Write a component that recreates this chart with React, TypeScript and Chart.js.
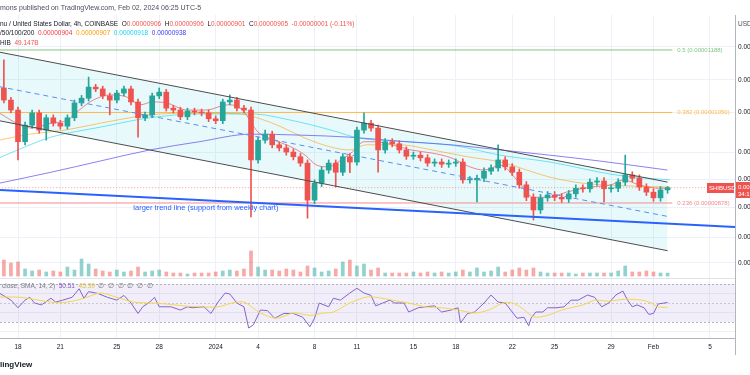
import { useEffect, useRef } from 'react';
import { Chart, registerables } from 'chart.js';

Chart.register(...registerables);

// Time axis is counted in 4h bars from 2023-12-18 00:00 (bar 0)
const dateTickBars = [0, 18, 42, 60, 84, 102, 126, 144, 168, 186, 210, 228, 252, 270, 294];
const dateTickLabels = ['18', '21', '25', '28', '2024', '4', '8', '11', '15', '18', '22', '25', '29', 'Feb', '5'];

// Candles (12h each), prices in units of 1e-8 USD
const firstCandleBar = -6;
const candleStepBars = 3;
const opens = [
  1102, 1076, 1055, 991, 1024, 1049, 1014, 1039, 1028, 1022,
  1039, 1070, 1080, 1104, 1100, 1085, 1076, 1091, 1100, 1072,
  1039, 1045, 1085, 1093, 1059, 1055, 1041, 1053, 1051, 1049,
  1037, 1033, 1072, 1076, 1059, 1055, 956, 994, 1006, 985,
  979, 971, 962, 950, 883, 913, 937, 950, 933, 962,
  952, 1014, 1028, 1018, 975, 991, 987, 975, 963, 965,
  960, 950, 952, 948, 950, 952, 919, 919, 922, 935,
  941, 956, 943, 933, 910, 888, 866, 887, 892, 888,
  885, 894, 904, 903, 915, 917, 903, 904, 915, 928,
  922, 906, 897, 887, 901,
];
const highs = [
  1165, 1082, 1061, 1030, 1055, 1055, 1045, 1045, 1034, 1045,
  1076, 1086, 1126, 1110, 1106, 1091, 1097, 1106, 1106, 1078,
  1051, 1091, 1102, 1099, 1065, 1061, 1059, 1059, 1057, 1055,
  1043, 1078, 1087, 1082, 1065, 1061, 1000, 1014, 1012, 991,
  985, 977, 968, 956, 919, 943, 956, 956, 968, 968,
  1020, 1049, 1034, 1024, 997, 997, 993, 981, 971, 971,
  966, 958, 958, 956, 958, 958, 925, 928, 941, 947,
  985, 962, 949, 939, 916, 894, 893, 898, 898, 894,
  900, 910, 910, 921, 923, 923, 910, 921, 965, 934,
  928, 912, 903, 907, 907,
];
const lows = [
  1070, 1049, 956, 985, 1018, 1008, 994, 1022, 1016, 1016,
  1033, 1064, 1074, 1094, 1079, 1045, 1070, 1085, 1066, 1000,
  1033, 1039, 1079, 1053, 1049, 1035, 1035, 1045, 1043, 1031,
  1027, 1027, 1066, 1053, 1049, 854, 950, 988, 979, 973,
  965, 956, 944, 852, 877, 907, 931, 906, 927, 932,
  946, 1008, 1012, 933, 969, 981, 969, 957, 957, 954,
  944, 944, 942, 942, 944, 913, 913, 880, 916, 929,
  935, 937, 927, 904, 882, 849, 860, 881, 882, 879,
  879, 888, 897, 897, 909, 880, 897, 898, 909, 916,
  900, 891, 881, 881, 895,
];
const closes = [
  1076, 1055, 991, 1024, 1049, 1014, 1039, 1028, 1022, 1039,
  1070, 1080, 1104, 1100, 1085, 1076, 1091, 1100, 1072, 1039,
  1045, 1085, 1093, 1059, 1055, 1041, 1053, 1051, 1049, 1037,
  1033, 1072, 1076, 1059, 1055, 956, 994, 1006, 985, 979,
  971, 962, 950, 883, 913, 937, 950, 933, 962, 952,
  1014, 1028, 1018, 975, 991, 987, 975, 963, 965, 960,
  950, 952, 948, 950, 952, 919, 919, 922, 935, 941,
  956, 943, 933, 910, 888, 866, 887, 892, 888, 885,
  894, 904, 903, 915, 917, 903, 904, 915, 928, 922,
  906, 897, 887, 901, 905,
];
// Volume in billions SHIB
const volumes = [
  267, 217, 234, 117, 84, 100, 67, 84, 67, 150,
  100, 284, 200, 117, 84, 67, 100, 67, 84, 150,
  67, 84, 100, 67, 50, 50, 33, 50, 50, 50,
  67, 84, 100, 84, 117, 418, 150, 100, 100, 84,
  117, 100, 67, 167, 134, 67, 84, 117, 234, 267,
  167, 200, 100, 134, 50, 50, 50, 50, 67, 50,
  67, 50, 67, 50, 67, 100, 67, 134, 67, 84,
  150, 67, 100, 134, 100, 134, 67, 50, 50, 50,
  50, 33, 50, 50, 50, 50, 50, 84, 167, 67,
  67, 84, 67, 50, 49,
];

// Moving averages (bar, price)
const ma20Bars = [-8, 1, 6, 14, 21, 26, 32, 39, 46, 52, 57, 63, 72, 80, 89, 95, 102, 109, 116, 122, 127, 132, 136, 142, 147, 152, 159, 167, 176, 184, 192, 198, 205, 212, 219, 226, 233, 243, 252, 257, 264, 272, 277];
const ma20Values = [1049, 1024, 1018, 1028, 1034, 1055, 1076, 1087, 1083, 1066, 1072, 1070, 1055, 1055, 1066, 1057, 1010, 994, 981, 965, 946, 943, 952, 971, 991, 991, 985, 975, 969, 960, 943, 937, 946, 919, 888, 888, 897, 906, 910, 919, 910, 904, 904];
const ma50Bars = [-8, 5, 20, 35, 56, 77, 94, 107, 127, 141, 148, 162, 176, 191, 205, 226, 240, 260, 277];
const ma50Values = [994, 1006, 1014, 1028, 1045, 1049, 1047, 1030, 989, 975, 985, 985, 975, 962, 952, 924, 913, 908, 906];
const ma100Bars = [-8, 3, 14, 35, 56, 77, 99, 116, 133, 145, 162, 186, 205, 226, 254, 277];
const ma100Values = [960, 981, 1000, 1020, 1039, 1047, 1047, 1034, 1014, 998, 992, 983, 965, 952, 928, 919];
const ma200Bars = [-8, 14, 35, 56, 77, 99, 120, 141, 162, 184, 205, 226, 247, 276];
const ma200Values = [913, 933, 954, 975, 991, 1006, 1004, 1000, 992, 985, 975, 965, 954, 937];

// RSI (14) and its SMA
const rsiBars = [-8, -3, 0, 3, 5, 7, 10, 14, 16, 19, 23, 26, 28, 30, 34, 38, 42, 45, 48, 51, 53, 56, 58, 60, 65, 69, 72, 74, 79, 82, 85, 88, 90, 93, 96, 98, 100, 103, 106, 109, 113, 117, 121, 124, 126, 128, 132, 134, 137, 141, 144, 147, 150, 152, 155, 158, 160, 164, 166, 170, 173, 177, 180, 184, 187, 188, 191, 194, 198, 201, 204, 207, 210, 212, 215, 217, 218, 220, 223, 225, 229, 232, 235, 238, 242, 245, 248, 251, 254, 257, 259, 261, 263, 266, 268, 270, 272, 276];
const rsiValues = [60.5, 53, 45, 53, 56, 50, 48, 55, 51, 53, 56, 65, 55, 62, 60, 56, 53, 58, 50, 39, 46, 51, 56, 46, 46, 42.6, 46, 45, 46, 39, 51, 60.5, 59.5, 50, 46, 23.7, 27, 42.6, 42, 34, 39, 39, 35, 25, 34, 50, 46, 55, 53, 60.5, 65.5, 60.5, 58, 47, 50, 53, 50, 50, 40.5, 45, 46, 47, 40.5, 42.6, 45, 29, 39, 40.5, 50, 58.4, 51, 50, 40.5, 34, 35, 26, 34, 40.5, 40.5, 45, 45, 46, 53, 53, 58.4, 56, 46, 50, 58.4, 62.6, 53, 46, 48, 45, 38, 39, 49, 50.5];
const rsiSmaBars = [-8, 1, 14, 21, 28, 35, 42, 49, 56, 63, 70, 77, 85, 91, 96, 103, 110, 117, 124, 130, 134, 141, 148, 152, 159, 166, 173, 180, 187, 194, 200, 206, 210, 214, 219, 225, 231, 240, 245, 251, 258, 265, 269, 272, 276];
const rsiSmaValues = [56.3, 56, 51, 51, 55, 60.5, 56, 51, 50, 49, 47, 46, 46, 50, 51, 39.5, 34, 39.5, 37, 39.5, 40.5, 50, 56.3, 56, 53, 50, 46, 45, 42.6, 39.5, 42.6, 50, 50, 45, 35.5, 37, 42.6, 48, 53, 52, 54, 53, 50, 46, 45.4];
const rsiTicks = [20, 40, 60];

// Drawings (bar, price)
const channelUpper = [[-8, 1183], [276, 915]];
const channelLower = [[-8, 1033], [276, 799]];
const channelMid = [[-8, 1105], [276, 855]];
const weeklyTrend = [[-8, 901], [306, 837]];
const fibRatios = ['0.5', '0.382', '0.236'];
const fibPrices = [1188, 1050, 878];
const fibColors = ['#81c784', '#ffb74d', '#f48c8c'];
const fibStartBar = -8;
const fibEndBar = 278;
const priceTicks = [1195, 1120, 1050, 970, 920, 870, 820, 780];
const lastPrice = 905;

const headerText = 'mons published on TradingView.com, Feb 02, 2024 06:25 UTC-5';
const trendNote = 'larger trend line (support from weekly chart)';
const trendNoteAt = [49, 869];

const FONT = '"Liberation Sans", Arial, sans-serif';
const UP = '#26a69a';
const DOWN = '#ef5350';

const toPts = (bars: number[], vals: number[]) => bars.map((b, i) => ({ x: b, y: vals[i] }));
const pairPts = (arr: number[][]) => arr.map(([x, y]) => ({ x, y }));

export default function App() {
  const ref = useRef<HTMLCanvasElement>(null);

  useEffect(() => {
    const canvas = ref.current;
    if (!canvas) return;
    const candleBars = closes.map((_, k) => firstCandleBar + candleStepBars * k);
    const isUp = (k: number) => closes[k] >= opens[k];

    const drawParts = (ctx: CanvasRenderingContext2D, parts: [string, string][], x: number, y: number) => {
      let cx = x;
      for (const [t, c] of parts) {
        ctx.fillStyle = c;
        ctx.fillText(t, cx, y);
        cx += ctx.measureText(t).width;
      }
    };

    const noPadX = (s: any) => { s.paddingLeft = 0; s.paddingRight = 0; };
    const noPadY = (s: any) => { s.paddingTop = 0; s.paddingBottom = 0; };

    const overlay = {
      id: 'overlay',
      beforeDatasetsDraw(chart: any) {
        const { ctx, chartArea: a, scales } = chart;
        const r = scales.yRsi;
        const y70 = r.getPixelForValue(70);
        const y30 = r.getPixelForValue(30);
        const y50 = r.getPixelForValue(50);
        ctx.save();
        ctx.fillStyle = 'rgba(126,87,194,0.1)';
        ctx.fillRect(a.left, y70, a.right - a.left, y30 - y70);
        ctx.strokeStyle = 'rgba(120,123,134,0.55)';
        ctx.lineWidth = 1;
        ctx.setLineDash([2, 2]);
        for (const yy of [y70, y30]) {
          ctx.beginPath();
          ctx.moveTo(a.left, Math.round(yy) + 0.5);
          ctx.lineTo(a.right, Math.round(yy) + 0.5);
          ctx.stroke();
        }
        ctx.strokeStyle = 'rgba(120,123,134,0.35)';
        ctx.beginPath();
        ctx.moveTo(a.left, Math.round(y50) + 0.5);
        ctx.lineTo(a.right, Math.round(y50) + 0.5);
        ctx.stroke();
        ctx.setLineDash([]);
        const ySep = Math.round(r.getPixelForValue(76.5)) + 0.5;
        ctx.strokeStyle = '#e0e3eb';
        ctx.beginPath();
        ctx.moveTo(a.left, ySep);
        ctx.lineTo(a.right, ySep);
        ctx.stroke();
        // price-axis border continues through the time-axis row
        ctx.strokeStyle = '#b2b5be';
        ctx.beginPath();
        ctx.moveTo(a.right + 0.5, a.bottom);
        ctx.lineTo(a.right + 0.5, a.bottom + 17);
        ctx.stroke();
        ctx.restore();
      },
      afterDraw(chart: any) {
        const { ctx, chartArea: a, scales } = chart;
        const y = scales.y;
        const x = scales.x;
        const r = scales.yRsi;
        ctx.save();
        ctx.textBaseline = 'middle';
        ctx.textAlign = 'left';
        // header
        ctx.font = `7px ${FONT}`;
        ctx.fillStyle = '#4a4e59';
        ctx.fillText(headerText, 0, 8);
        // legends
        ctx.font = `6.5px ${FONT}`;
        const dark = '#131722';
        drawParts(ctx, [
          ['nu / United States Dollar, 4h, COINBASE  ', dark], ['O', dark], ['0.00000906', DOWN],
          ['  H', dark], ['0.00000906', DOWN], ['  L', dark], ['0.00000901', DOWN],
          ['  C', dark], ['0.00000905', DOWN], ['  -0.00000001 (-0.11%)', DOWN],
        ], 0, 24);
        drawParts(ctx, [
          ['/50/100/200  ', dark], ['0.00000904  ', '#f23645'], ['0.00000907  ', '#ff9800'],
          ['0.00000918  ', '#18d6f0'], ['0.00000938', '#3b3bf5'],
        ], 0, 33);
        drawParts(ctx, [['HIB  ', dark], ['49.147B', DOWN]], 0, 43);
        drawParts(ctx, [
          ['close, SMA, 14, 2)  ', '#787b86'], ['50.51  ', '#7e57c2'], ['45.39  ', '#e0c23a'],
          ['\u2205  \u2205  \u2205  \u2205  \u2205  \u2205', '#787b86'],
        ], 2, r.getPixelForValue(68));
        // USD label
        ctx.fillStyle = '#4a4e59';
        ctx.fillText('USD', a.right + 3, 24);
        // fib labels
        ctx.font = `6px ${FONT}`;
        fibPrices.forEach((p, i) => {
          ctx.fillStyle = fibColors[i];
          ctx.fillText(`${fibRatios[i]} (${(p / 1e8).toFixed(8)})`, x.getPixelForValue(fibEndBar) + 5, y.getPixelForValue(p));
        });
        // trend note
        ctx.font = `7.5px ${FONT}`;
        ctx.fillStyle = '#2962ff';
        ctx.fillText(trendNote, x.getPixelForValue(trendNoteAt[0]), y.getPixelForValue(trendNoteAt[1]));
        // last price labels
        const py = Math.round(y.getPixelForValue(lastPrice));
        ctx.fillStyle = DOWN;
        ctx.fillRect(a.right - 28, py - 5, 27, 10);
        ctx.fillRect(a.right + 1, py - 6, 20, 16);
        ctx.font = `6px ${FONT}`;
        ctx.fillStyle = '#ffffff';
        ctx.fillText('SHIBUSD', a.right - 26, py);
        ctx.fillText((lastPrice / 1e8).toFixed(8), a.right + 3, py - 1);
        ctx.fillText('34:16', a.right + 3, py + 6);
        // footer
        ctx.font = `bold 8px ${FONT}`;
        ctx.fillStyle = '#131722';
        ctx.fillText('lingView', 0, 365);
        ctx.restore();
      },
    };

    const line = (data: any[], color: string, width: number, extra: any = {}) => ({
      type: 'line',
      data,
      borderColor: color,
      borderWidth: width,
      pointRadius: 0,
      tension: 0,
      fill: false,
      yAxisID: 'y',
      ...extra,
    });

    const chart = new Chart(canvas, {
      data: {
        datasets: [
          line(pairPts(channelUpper), '#4d4d4d', 1, { fill: '+1', backgroundColor: 'rgba(0,188,212,0.09)', order: 1 }),
          line(pairPts(channelLower), '#4d4d4d', 1, { order: 1 }),
          line(pairPts(channelMid), '#5b8def', 1, { borderDash: [5, 4], order: 1 }),
          line(pairPts(weeklyTrend), '#2962ff', 2, { order: 0 }),
          ...fibPrices.map((p, i) => line([{ x: fibStartBar, y: p }, { x: fibEndBar, y: p }], fibColors[i], 1, { order: 6 })),
          line([{ x: -8, y: lastPrice }, { x: 310, y: lastPrice }], 'rgba(239,83,80,0.55)', 1, { borderDash: [1, 2], order: 6 }),
          {
            type: 'bar',
            data: volumes.map((v, k) => ({ x: candleBars[k], y: v })),
            backgroundColor: (c: any) => (isUp(c.dataIndex) ? 'rgba(38,166,154,0.5)' : 'rgba(239,83,80,0.5)'),
            barThickness: 3,
            grouped: false,
            yAxisID: 'yVol',
            order: 7,
          },
          line(toPts(ma200Bars, ma200Values), 'rgba(90,75,235,0.7)', 1, { tension: 0.4, cubicInterpolationMode: 'monotone', order: 4 }),
          line(toPts(ma100Bars, ma100Values), 'rgba(0,210,235,0.55)', 1, { tension: 0.4, cubicInterpolationMode: 'monotone', order: 4 }),
          line(toPts(ma50Bars, ma50Values), 'rgba(255,152,0,0.55)', 1, { tension: 0.4, cubicInterpolationMode: 'monotone', order: 4 }),
          line(toPts(ma20Bars, ma20Values), 'rgba(242,54,69,0.6)', 1, { tension: 0.4, cubicInterpolationMode: 'monotone', order: 4 }),
          {
            type: 'bar',
            data: candleBars.map((b, k) => ({ x: b, y: [lows[k], highs[k]] })),
            backgroundColor: (c: any) => (isUp(c.dataIndex) ? UP : DOWN),
            barThickness: 1,
            grouped: false,
            yAxisID: 'y',
            order: 3,
          },
          {
            type: 'bar',
            data: candleBars.map((b, k) => ({ x: b, y: [opens[k], closes[k]] })),
            backgroundColor: (c: any) => (isUp(c.dataIndex) ? UP : DOWN),
            barThickness: 5,
            minBarLength: 1,
            grouped: false,
            yAxisID: 'y',
            order: 2,
          },
          line(toPts(rsiSmaBars, rsiSmaValues), '#f2d64b', 1, { yAxisID: 'yRsi', tension: 0.3, order: 2 }),
          line(toPts(rsiBars, rsiValues), '#8463c9', 1, { yAxisID: 'yRsi', order: 2 }),
        ] as any,
      },
      options: {
        responsive: false,
        animation: false,
        devicePixelRatio: 1,
        events: [],
        layout: { padding: { top: 15, left: 0, right: 0, bottom: 0 } },
        plugins: {
          legend: { display: false },
          tooltip: { enabled: false },
          filler: { drawTime: 'beforeDatasetsDraw' },
        } as any,
        scales: {
          x: {
            type: 'linear',
            position: 'bottom',
            min: -7.648,
            max: 304.64,
            bounds: 'data',
            offset: false,
            afterFit: (s: any) => { s.height = 37; noPadX(s); },
            afterBuildTicks: (s: any) => { s.ticks = dateTickBars.map((v) => ({ value: v })); },
            ticks: {
              autoSkip: false,
              maxRotation: 0,
              padding: 5,
              color: '#131722',
              font: { size: 6.5, family: FONT },
              callback: (_v: any, i: number) => dateTickLabels[i],
            },
            grid: { color: '#eef1f7', drawTicks: false, offset: false },
            border: { display: true, color: '#b2b5be' },
          },
          yRsi: {
            type: 'linear',
            position: 'right',
            weight: 0,
            min: 13.16,
            max: 353.16,
            bounds: 'data',
            afterFit: (s: any) => { s.width = 0; noPadY(s); },
            afterBuildTicks: (s: any) => { s.ticks = rsiTicks.map((v) => ({ value: v })); },
            ticks: {
              autoSkip: false,
              padding: 3,
              color: '#131722',
              font: { size: 6.5, family: FONT },
              callback: (v: any) => Number(v).toFixed(2),
            },
            grid: { color: '#eef1f7', drawTicks: false },
            border: { display: false },
          },
          y: {
            type: 'logarithmic',
            position: 'right',
            weight: 1,
            min: 672.4,
            max: 1273,
            bounds: 'data',
            afterFit: (s: any) => { s.width = 15; noPadY(s); },
            afterBuildTicks: (s: any) => { s.ticks = priceTicks.map((v) => ({ value: v })); },
            ticks: {
              autoSkip: false,
              padding: 3,
              color: '#131722',
              font: { size: 6.5, family: FONT },
              callback: (v: any) => (Number(v) / 1e8).toFixed(8),
            },
            grid: { color: '#eef1f7', drawTicks: false },
            border: { display: true, color: '#b2b5be' },
          },
          yVol: {
            type: 'linear',
            position: 'right',
            weight: 2,
            display: false,
            min: -1033,
            max: 4350,
          },
        } as any,
      },
      plugins: [overlay],
    } as any);
    return () => chart.destroy();
  }, []);

  return (
    <div style={{ position: 'absolute', left: 0, top: 0, width: 750, height: 375, background: '#ffffff' }}>
      <canvas ref={ref} width={750} height={375} style={{ display: 'block' }} />
    </div>
  );
}
